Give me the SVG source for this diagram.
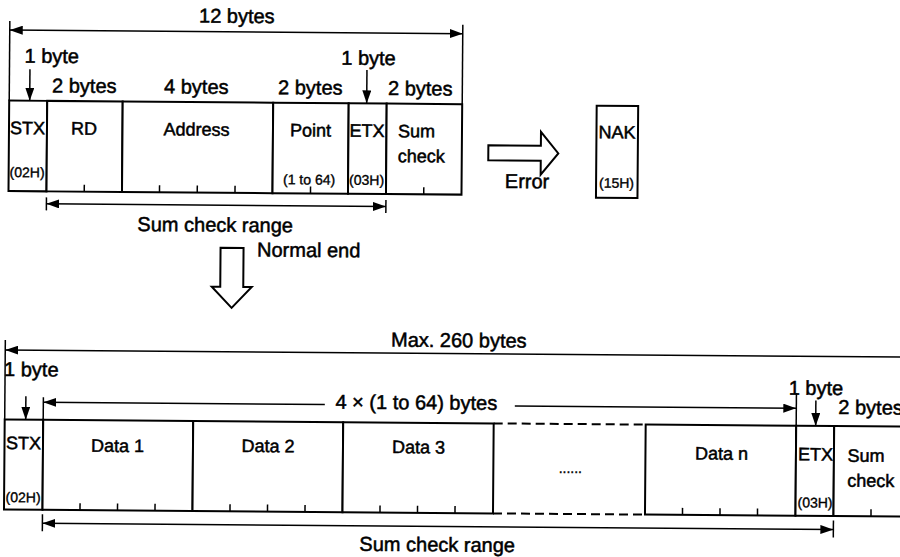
<svg xmlns="http://www.w3.org/2000/svg" width="900" height="557" viewBox="0 0 900 557">
<defs>
<marker id="ah" markerUnits="userSpaceOnUse" markerWidth="13" markerHeight="9" refX="13" refY="4.5" orient="auto-start-reverse"><path d="M0,0 L13,4.5 L0,9 z" fill="#000"/></marker>
<style>
text{font-family:"Liberation Sans",Arial,Helvetica,sans-serif;fill:#000;stroke:#000;stroke-width:0.5}
.L{font-size:20px}
.M{font-size:18px}
.S{font-size:14px;stroke-width:0.35}
.c{text-anchor:middle}
.cell{fill:#fff;stroke:#000;stroke-width:2}
.tk{stroke:#000;stroke-width:1.5}
.dim{stroke:#000;stroke-width:1.5;fill:none}
.arr{stroke:#000;stroke-width:1.5;fill:none;marker-end:url(#ah)}
.both{marker-start:url(#ah);marker-end:url(#ah)}
.blk{fill:#fff;stroke:#000;stroke-width:2;stroke-linejoin:miter}
.dash{stroke:#000;stroke-width:2;stroke-dasharray:9 5}
</style>
</defs>
<rect width="900" height="557" fill="#fff"/>
<g transform="rotate(0.45)">
<!-- top frame -->
<g id="top-stx"><rect class="cell" x="10" y="100.5" width="38" height="90.5"/><text class="M c" x="28.5" y="134">STX</text><text class="S c" x="28.5" y="177">(02H)</text></g>
<g id="top-rd"><rect class="cell" x="48" y="100.5" width="75.5" height="90.5"/><text class="M c" x="85" y="134">RD</text><line class="tk" x1="85.75" y1="184" x2="85.75" y2="191"/></g>
<g id="top-address"><rect class="cell" x="123.5" y="100.5" width="150.5" height="90.5"/><text class="M c" x="197.5" y="134">Address</text><line class="tk" x1="161" y1="184" x2="161" y2="191"/><line class="tk" x1="198.75" y1="184" x2="198.75" y2="191"/><line class="tk" x1="236.5" y1="184" x2="236.5" y2="191"/></g>
<g id="top-point"><rect class="cell" x="274" y="100.5" width="75.5" height="90.5"/><text class="M c" x="311.5" y="134">Point</text><text class="S c" x="310.5" y="182">(1 to 64)</text><line class="tk" x1="312" y1="184" x2="312" y2="191"/></g>
<g id="top-etx"><rect class="cell" x="349.5" y="100.5" width="38" height="90.5"/><text class="M c" x="368" y="134">ETX</text><text class="S c" x="368" y="182">(03H)</text></g>
<g id="top-sum"><rect class="cell" x="387.5" y="100.5" width="75.5" height="90.5"/><text class="M" x="399" y="134">Sum</text><text class="M" x="399" y="159">check</text><line class="tk" x1="425.25" y1="184" x2="425.25" y2="191"/></g>

<g id="error-arrow"><polygon class="blk" points="489.5,141.5 542,141.5 542,127.5 559.5,149 542,170.5 542,156.5 489.5,156.5"/><text class="L c" x="528.5" y="184">Error</text></g>
<g id="nak"><rect class="cell" x="597.5" y="101" width="41.5" height="92"/><text class="M c" x="618" y="133.5">NAK</text><text class="S c" x="618" y="183">(15H)</text></g>

<g id="normal-end-arrow"><polygon class="blk" points="222.5,246 245.5,246 245.5,285 254,285 234,306 214,285 222.5,285"/><text class="L" x="259" y="254.5">Normal end</text></g>

<!-- bottom frame -->
<g id="bot-stx"><rect class="cell" x="8" y="419.5" width="38.5" height="90"/><text class="M c" x="27" y="449">STX</text><text class="S c" x="27" y="502">(02H)</text></g>
<g id="bot-data1"><rect class="cell" x="46.5" y="419.5" width="150" height="90"/><text class="M c" x="121" y="451">Data 1</text><line class="tk" x1="84" y1="502.5" x2="84" y2="509.5"/><line class="tk" x1="121.5" y1="502.5" x2="121.5" y2="509.5"/><line class="tk" x1="159" y1="502.5" x2="159" y2="509.5"/></g>
<g id="bot-data2"><rect class="cell" x="196.5" y="419.5" width="150" height="90"/><text class="M c" x="271.5" y="450">Data 2</text><line class="tk" x1="234" y1="502.5" x2="234" y2="509.5"/><line class="tk" x1="271.5" y1="502.5" x2="271.5" y2="509.5"/><line class="tk" x1="309" y1="502.5" x2="309" y2="509.5"/></g>
<g id="bot-data3"><rect class="cell" x="346.5" y="419.5" width="150.5" height="90"/><text class="M c" x="422" y="450">Data 3</text><line class="tk" x1="384" y1="502.5" x2="384" y2="509.5"/><line class="tk" x1="421.5" y1="502.5" x2="421.5" y2="509.5"/><line class="tk" x1="459" y1="502.5" x2="459" y2="509.5"/></g>
<g id="bot-more"><line class="dash" x1="497" y1="419.5" x2="649" y2="419.5"/><line class="dash" x1="497" y1="509.5" x2="649" y2="509.5"/><text class="S c" x="574" y="468.5">......</text></g>
<g id="bot-datan"><rect class="cell" x="649" y="419.5" width="150.5" height="90"/><text class="M c" x="725" y="454">Data n</text><line class="tk" x1="686.5" y1="502.5" x2="686.5" y2="509.5"/><line class="tk" x1="724" y1="502.5" x2="724" y2="509.5"/><line class="tk" x1="761.5" y1="502.5" x2="761.5" y2="509.5"/></g>
<g id="bot-etx"><rect class="cell" x="799.5" y="419.5" width="38" height="90"/><text class="M c" x="819" y="454">ETX</text><text class="S c" x="819" y="501">(03H)</text></g>
<g id="bot-sum"><rect class="cell" x="837.5" y="419.5" width="80" height="90"/><text class="M" x="851" y="455">Sum</text><text class="M" x="851" y="480">check</text><line class="tk" x1="875" y1="502.5" x2="875" y2="509.5"/></g>

<!-- connectors / dimension lines -->
<g id="connectors">
<line class="dim" x1="10" y1="21" x2="10" y2="100.5"/>
<line class="dim" x1="463" y1="21" x2="463" y2="100.5"/>
<line class="dim both" x1="10" y1="30" x2="463" y2="30"/>
<line class="arr" x1="30.5" y1="69" x2="30.5" y2="100.5"/>
<line class="arr" x1="367.5" y1="67" x2="367.5" y2="100.5"/>
<line class="dim" x1="48" y1="197" x2="48" y2="210"/>
<line class="dim" x1="387.5" y1="197" x2="387.5" y2="210"/>
<line class="dim both" x1="48" y1="203.5" x2="387.5" y2="203.5"/>

<line class="dim" x1="8" y1="340" x2="8" y2="419.5"/>
<line class="dim" x1="910" y1="350" x2="8" y2="350" style="marker-end:url(#ah)"/>
<line class="arr" x1="29" y1="396" x2="29" y2="419.5"/>
<line class="dim" x1="46.5" y1="397" x2="46.5" y2="419.5"/>
<line class="dim" x1="799.5" y1="387" x2="799.5" y2="419.5"/>
<line class="arr" x1="328" y1="402" x2="46.5" y2="402"/>
<line class="arr" x1="518" y1="402" x2="799.5" y2="402"/>
<line class="arr" x1="819" y1="394" x2="819" y2="419.5"/>
<line class="dim" x1="46.5" y1="514" x2="46.5" y2="531"/>
<line class="dim" x1="837.5" y1="514" x2="837.5" y2="531"/>
<line class="dim both" x1="46.5" y1="523" x2="837.5" y2="523"/>
</g>

<g id="labels">
<text class="L c" x="237" y="21">12 bytes</text>
<text class="L" x="25" y="62.5">1 byte</text>
<text class="L c" x="369" y="62">1 byte</text>
<text class="L c" x="85" y="92">2 bytes</text>
<text class="L c" x="197" y="92">4 bytes</text>
<text class="L c" x="311" y="92">2 bytes</text>
<text class="L c" x="421" y="92">2 bytes</text>
<text class="L c" x="217" y="230">Sum check range</text>
<text class="L c" x="461.5" y="343.5">Max. 260 bytes</text>
<text class="L" x="7" y="376">1 byte</text>
<text class="L c" x="419.5" y="406">4 × (1 to 64) bytes</text>
<text class="L c" x="819" y="388.5">1 byte</text>
<text class="L" x="841.5" y="407.5">2 bytes</text>
<text class="L c" x="441.5" y="548">Sum check range</text>
</g>
</g>
</svg>
